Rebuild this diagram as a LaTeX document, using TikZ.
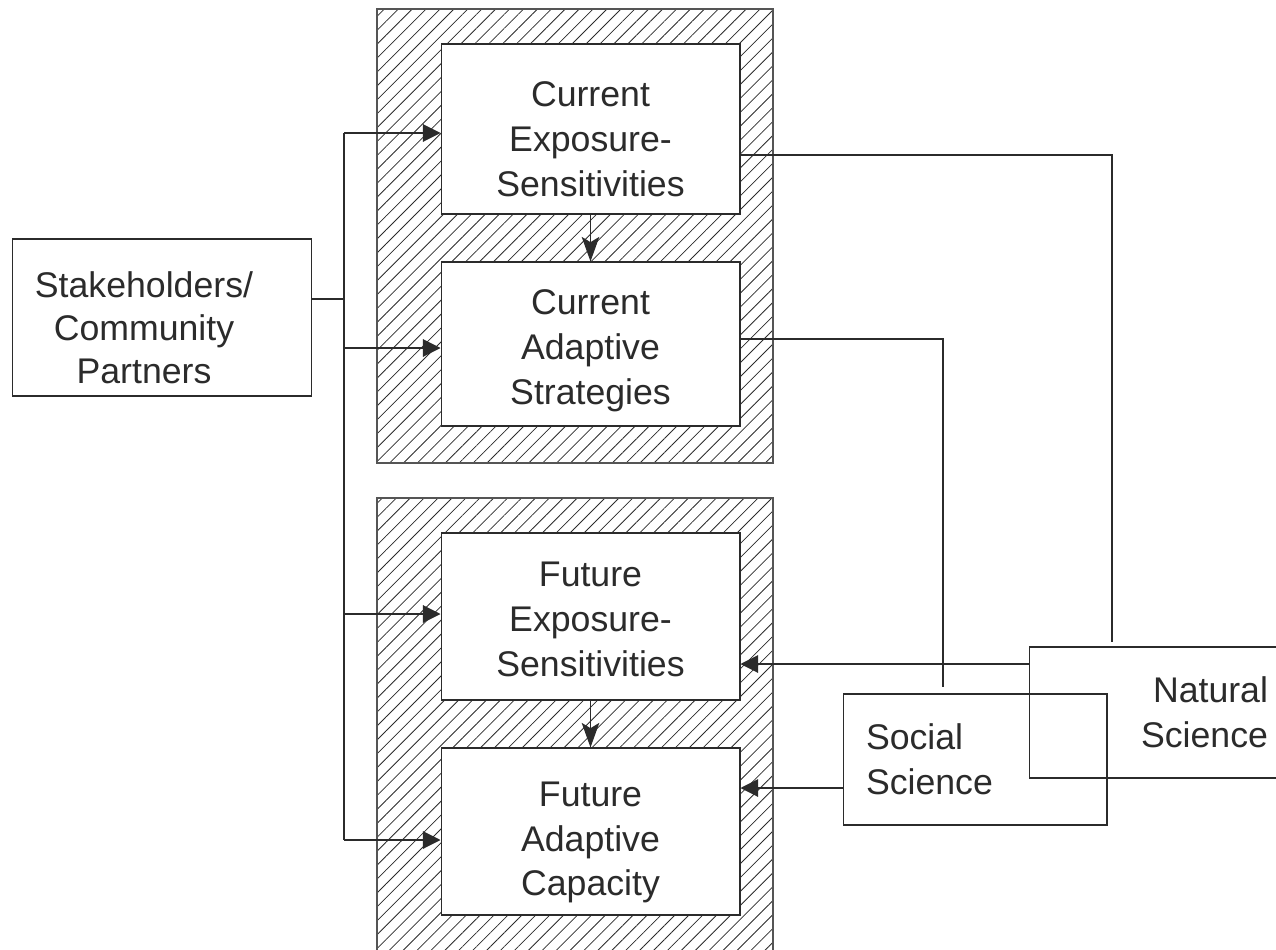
\documentclass[tikz,border=0pt]{standalone}
\usepackage{fontspec}
\setmainfont{Liberation Sans}
\usetikzlibrary{arrows.meta, patterns.meta}
\definecolor{InkGray}{HTML}{2B2B2B}

\begin{document}
\begin{tikzpicture}[x=0.02cm, y=-0.02cm,
    box/.style={draw=InkGray, line width=0.6pt, rectangle, inner sep=0pt, align=center,
        font=\fontsize{20.3}{25.5}\selectfont, text=InkGray},
    txt/.style={align=center, inner sep=0pt, font=\fontsize{20.3}{25.5}\selectfont, text=InkGray},
    hatch/.style={draw=InkGray!80, line width=0.7pt,
        pattern={Lines[angle=45, distance=5.6pt, line width=0.45pt]}, pattern color=InkGray},
    link/.style={draw=InkGray, line width=0.6pt},
    arr/.style={link, -{Triangle[length=10pt, width=10pt]}},
    darr/.style={link, -{Stealth[length=14pt, width=10pt, inset=3pt]}}]
    \useasboundingbox (0,0) rectangle (1276,950);
    % Hatched frames
    \draw[hatch] (377,9) rectangle (773,463);
    \draw[hatch] (377,498) rectangle (773,965);
    % Inner boxes
    \node[box, fill=white, minimum width=5.98cm, minimum height=3.4cm] (curExp) at (590.5,129) {};
    \node[box, fill=white, minimum width=5.98cm, minimum height=3.28cm] (curAda) at (590.5,344) {};
    \node[box, fill=white, minimum width=5.98cm, minimum height=3.34cm] (futExp) at (590.5,616.5) {};
    \node[box, fill=white, minimum width=5.98cm, minimum height=3.34cm] (futCap) at (590.5,831.5) {};
    \node[txt] (curExpText) at ([yshift=-0.2cm]curExp.center) {Current\\Exposure-\\Sensitivities};
    \node[txt] (curAdaText) at ([yshift=-0.14cm]curAda.center) {Current\\Adaptive\\Strategies};
    \node[txt] (futExpText) at ([yshift=-0.06cm]futExp.center) {Future\\Exposure-\\Sensitivities};
    \node[txt] (futCapText) at ([yshift=-0.22cm]futCap.center) {Future\\Adaptive\\Capacity};
    % Stakeholders
    \node[box, minimum width=6cm, minimum height=3.14cm] (stake) at (162,317.5) {};
    \node[txt, font=\fontsize{20.3}{24.5}\selectfont] (stakeText) at (144,328) {Stakeholders/\\Community\\Partners};
    % Science boxes
    \node[box, minimum width=5.28cm, minimum height=2.62cm, inner xsep=0.46cm, text width=4.36cm, align=left] (socSci) at (975,759.5) {Social\\Science};
    \node[box, minimum width=5.22cm, minimum height=2.62cm, inner xsep=0.44cm, text width=4.34cm, align=right] (natSci) at (1159.5,712.5) {Natural\\Science};
    % Stakeholder bus
    \coordinate (busTop) at (344,133);
    \coordinate (busBot) at (344,840);
    \coordinate (stakeOut) at (stake.east |- 0,299);
    \draw[link] (stakeOut) -- (stakeOut -| busTop);
    \draw[link] (busTop) -- (busBot);
    \draw[arr] (busTop) -- (busTop -| curExp.west);
    \draw[arr] (busTop |- 0,348) -- (curAda.west |- 0,348);
    \draw[arr] (busTop |- 0,614) -- (futExp.west |- 0,614);
    \draw[arr] (busBot) -- (busBot -| futCap.west);
    % Down arrows
    \draw[darr] (curExp.south) -- (curAda.north);
    \draw[darr] (futExp.south) -- (futCap.north);
    % Right side links
    \coordinate (natIn) at (1112,642);
    \coordinate (socIn) at (943,687);
    \draw[link] (curExp.east |- 0,155) -| (natIn);
    \draw[link] (curAda.east |- 0,339) -| (socIn);
    \draw[arr] (natSci.west |- 0,664) -- (futExp.east |- 0,664);
    \draw[arr] (socSci.west |- 0,788) -- (futCap.east |- 0,788);
\end{tikzpicture}
\end{document}
